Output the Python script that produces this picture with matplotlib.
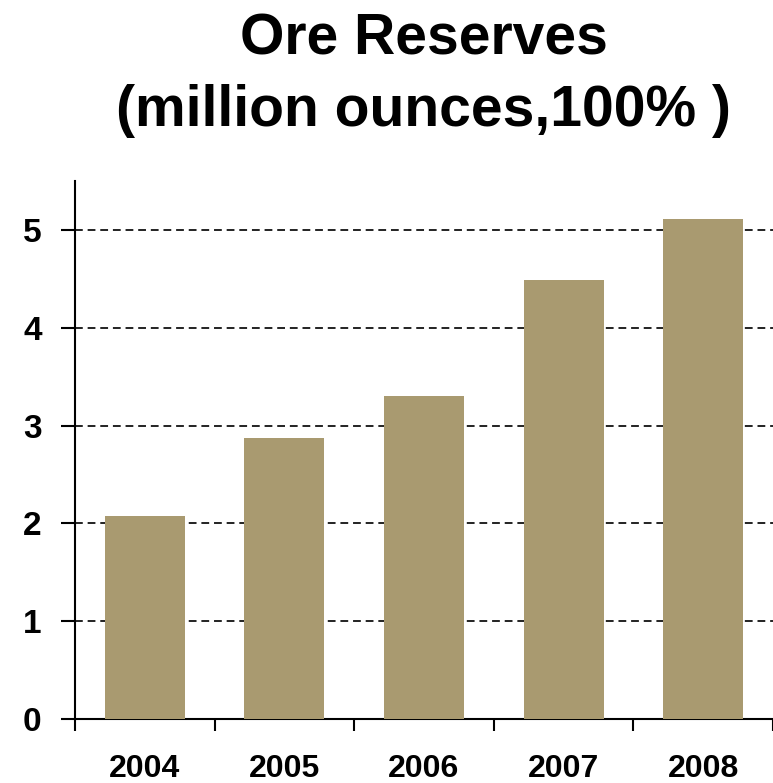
import matplotlib
matplotlib.use("Agg")
import matplotlib.pyplot as plt
import numpy as np

# data
years = ['2004', '2005', '2006', '2007', '2008']
reserves = [2.08, 2.87, 3.30, 4.49, 5.11]
yticks = [0, 1, 2, 3, 4, 5]

plt.rcParams['font.family'] = ['Liberation Sans', 'DejaVu Sans']

fig = plt.figure(figsize=(7.73, 7.83), dpi=100)
ax = fig.add_axes([0.097, 0.0817, 0.903, 0.687])

x = np.arange(len(years))
ax.bar(x, reserves, width=0.573, color='#A99A70', zorder=3)

ax.set_xlim(-0.5, len(years) - 0.5)
ax.set_ylim(0, 5.5)

# dashed gridlines
ax.set_yticks(yticks)
ax.set_yticklabels([str(t) for t in yticks], fontsize=24, fontweight='bold')
ax.yaxis.grid(True, linestyle=(0, (4, 2.5)), color='#222222', linewidth=1.4, zorder=1)
ax.tick_params(axis='y', direction='out', length=10, width=1.5, pad=14)

# labels at bar centres, ticks between categories
ax.set_xticks(x)
ax.set_xticklabels(years, fontsize=23, fontweight='bold')
ax.set_xticks(np.arange(len(years) + 1) - 0.5, minor=True)
ax.tick_params(axis='x', which='major', length=0, pad=25)
ax.tick_params(axis='x', which='minor', direction='out', length=8.5, width=1.5)

for side in ['top', 'right']:
    ax.spines[side].set_visible(False)
for side in ['left', 'bottom']:
    ax.spines[side].set_linewidth(1.5)

ax.set_title('Ore Reserves\n(million ounces,100% )', fontsize=41,
             fontweight='bold', pad=40, linespacing=1.4)

fig.savefig('out.png', dpi=100)
